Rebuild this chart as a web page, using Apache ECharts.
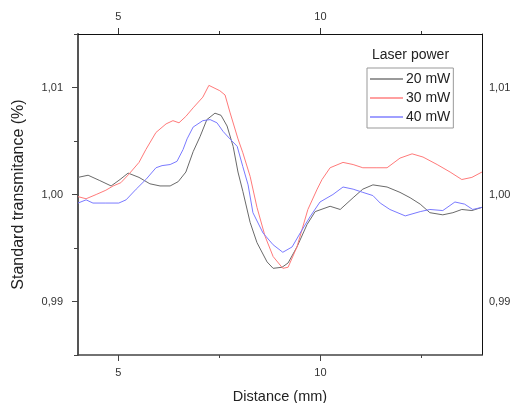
<!DOCTYPE html>
<html>
<head>
<meta charset="utf-8">
<script src="https://cdn.jsdelivr.net/npm/echarts@6/dist/echarts.min.js"></script>
<style>html,body{margin:0;padding:0;background:#fff;}#c{width:511px;height:403px;}</style>
</head>
<body>
<div id="c"></div>
<script>
// Data
var seriesNames = ['20 mW', '30 mW', '40 mW'];

var x20 = [4.0, 4.25, 4.54, 4.82, 5.04, 5.24, 5.51, 5.78, 6.03, 6.28, 6.48, 6.67, 6.85, 7.02, 7.19, 7.39, 7.54, 7.69, 7.84, 7.96, 8.08, 8.26, 8.43, 8.68, 8.83, 9.05, 9.20, 9.42, 9.67, 9.87, 10.24, 10.49, 10.81, 11.05, 11.30, 11.65, 11.97, 12.22, 12.47, 12.71, 13.03, 13.28, 13.50, 13.75, 14.0];
var y20 = [1.0016, 1.0018, 1.0013, 1.0008, 1.0014, 1.0020, 1.0016, 1.0010, 1.0008, 1.0008, 1.0012, 1.0021, 1.0040, 1.0054, 1.0070, 1.0076, 1.0074, 1.0064, 1.0045, 1.0021, 1.0003, 0.9974, 0.9955, 0.9937, 0.9931, 0.9932, 0.9936, 0.9951, 0.9972, 0.9984, 0.9989, 0.9986, 0.9997, 1.0005, 1.0009, 1.0007, 1.0002, 0.9997, 0.9991, 0.9983, 0.9981, 0.9983, 0.9986, 0.9985, 0.9988];

var x30 = [4.0, 4.20, 4.45, 4.69, 4.87, 5.06, 5.26, 5.51, 5.68, 5.93, 6.18, 6.35, 6.50, 6.67, 6.85, 7.09, 7.24, 7.51, 7.64, 7.76, 7.96, 8.08, 8.26, 8.43, 8.63, 8.83, 9.07, 9.20, 9.42, 9.69, 9.92, 10.04, 10.24, 10.56, 10.81, 11.05, 11.40, 11.65, 11.97, 12.27, 12.54, 12.89, 13.21, 13.50, 13.75, 14.0];
var y30 = [0.9998, 0.9996, 1.0000, 1.0004, 1.0008, 1.0011, 1.0019, 1.0030, 1.0042, 1.0058, 1.0066, 1.0069, 1.0067, 1.0073, 1.0081, 1.0091, 1.0102, 1.0097, 1.0093, 1.0077, 1.0052, 1.0039, 1.0017, 0.9988, 0.9961, 0.9942, 0.9931, 0.9932, 0.9951, 0.9986, 1.0005, 1.0014, 1.0025, 1.0030, 1.0028, 1.0025, 1.0025, 1.0025, 1.0034, 1.0038, 1.0035, 1.0028, 1.0021, 1.0014, 1.0016, 1.0021];

var x40 = [4.0, 4.20, 4.37, 4.69, 5.01, 5.19, 5.44, 5.68, 5.93, 6.08, 6.28, 6.45, 6.60, 6.70, 6.85, 7.09, 7.27, 7.44, 7.59, 7.76, 7.94, 8.08, 8.21, 8.33, 8.58, 8.83, 9.07, 9.30, 9.50, 9.74, 9.99, 10.31, 10.56, 10.81, 11.05, 11.30, 11.48, 11.72, 12.10, 12.47, 12.71, 13.03, 13.33, 13.57, 13.77, 14.0];
var y40 = [0.9992, 0.9995, 0.9992, 0.9992, 0.9992, 0.9995, 1.0005, 1.0014, 1.0025, 1.0027, 1.0028, 1.0031, 1.0042, 1.0052, 1.0063, 1.0069, 1.0070, 1.0067, 1.0059, 1.0052, 1.0045, 1.0026, 1.0009, 0.9983, 0.9964, 0.9953, 0.9946, 0.9951, 0.9964, 0.9979, 0.9993, 1.0000, 1.0007, 1.0005, 1.0002, 0.9999, 0.9992, 0.9986, 0.9980, 0.9984, 0.9986, 0.9985, 0.9993, 0.9991, 0.9986, 0.9988];

var xMajorTicks = [5, 10];
var xMinorTicks = [7.5, 12.5];
var yMajorTicks = [0.99, 1.00, 1.01];
var yMinorTicks = [0.985, 0.995, 1.005, 1.015];

function pairs(xs, ys) { return xs.map(function (x, i) { return [x, ys[i]]; }); }
function comma(v) { return v.toFixed(2).replace('.', ','); }

var chart = echarts.init(document.getElementById('c'), null, {renderer: 'canvas'});
var font = 'Liberation Sans, Arial, sans-serif';
var xBase = {type: 'value', min: 4, max: 14, splitLine: {show: false}};
var yBase = {type: 'value', min: 0.985, max: 1.015, splitLine: {show: false}};

chart.setOption({
  animation: false,
  backgroundColor: '#ffffff',
  textStyle: {fontFamily: font},
  title: {text: 'Laser power', left: 372, top: 48, padding: 0,
          textStyle: {fontSize: 14, fontWeight: 'normal', color: '#222', fontFamily: font}},
  legend: {
    data: seriesNames, orient: 'vertical', left: 367, top: 68,
    padding: [4, 3, 4, 3], itemGap: 5, itemWidth: 33, itemHeight: 2, icon: 'rect',
    borderColor: '#999', borderWidth: 1,
    textStyle: {fontSize: 14, color: '#222', fontFamily: font, padding: [0, 0, 0, -2]}
  },
  grid: {left: 78, right: 29, top: 34, bottom: 48, containLabel: false, outerBoundsMode: 'none'},
  xAxis: [
    Object.assign({}, xBase, {position: 'bottom', name: 'Distance (mm)', nameLocation: 'middle', nameGap: 34,
      nameTextStyle: {fontSize: 14.5, color: '#222', fontFamily: font},
      axisLine: {show: true, lineStyle: {color: '#444', width: 1.5}},
      axisTick: {show: true, length: 6, lineStyle: {color: '#444'}, customValues: xMajorTicks},
      axisLabel: {show: true, margin: 12, fontSize: 11, color: '#333', customValues: xMajorTicks}}),
    Object.assign({}, xBase, {position: 'top',
      axisLine: {show: true, lineStyle: {color: '#111', width: 1}},
      axisTick: {show: true, length: 6, lineStyle: {color: '#333'}, customValues: xMajorTicks},
      axisLabel: {show: true, margin: 12, fontSize: 11, color: '#333', customValues: xMajorTicks}}),
    Object.assign({}, xBase, {position: 'bottom',
      axisLine: {show: false},
      axisTick: {show: true, length: 3, lineStyle: {color: '#444'}, customValues: xMinorTicks},
      axisLabel: {show: false}}),
    Object.assign({}, xBase, {position: 'top',
      axisLine: {show: false},
      axisTick: {show: true, length: 3, lineStyle: {color: '#333'}, customValues: xMinorTicks},
      axisLabel: {show: false}})
  ],
  yAxis: [
    Object.assign({}, yBase, {position: 'left', name: 'Standard transmitance (%)', nameLocation: 'middle', nameGap: 51,
      nameTextStyle: {fontSize: 16, color: '#222', fontFamily: font},
      axisLine: {show: true, lineStyle: {color: '#555', width: 2}},
      axisTick: {show: true, length: 6, lineStyle: {color: '#444'}, customValues: yMajorTicks},
      axisLabel: {show: true, margin: 15, fontSize: 11, color: '#333', customValues: yMajorTicks, formatter: comma}}),
    Object.assign({}, yBase, {position: 'right',
      axisLine: {show: true, lineStyle: {color: '#111', width: 1}},
      axisTick: {show: false},
      axisLabel: {show: true, margin: 7, fontSize: 11, color: '#333', customValues: yMajorTicks, formatter: comma}}),
    Object.assign({}, yBase, {position: 'left',
      axisLine: {show: false},
      axisTick: {show: true, length: 4, lineStyle: {color: '#444'}, customValues: yMinorTicks},
      axisLabel: {show: false}})
  ],
  series: [
    {name: seriesNames[0], type: 'line', xAxisIndex: 0, yAxisIndex: 0, data: pairs(x20, y20),
     symbol: 'none', lineStyle: {width: 1, color: '#6a6a6a'}, itemStyle: {color: '#9a9a9a'}},
    {name: seriesNames[1], type: 'line', xAxisIndex: 0, yAxisIndex: 0, data: pairs(x30, y30),
     symbol: 'none', lineStyle: {width: 1, color: '#ff7a7a'}, itemStyle: {color: '#ffa0a0'}},
    {name: seriesNames[2], type: 'line', xAxisIndex: 0, yAxisIndex: 0, data: pairs(x40, y40),
     symbol: 'none', lineStyle: {width: 1, color: '#7a7aff'}, itemStyle: {color: '#a0a0ff'}}
  ]
});
</script>
</body>
</html>
